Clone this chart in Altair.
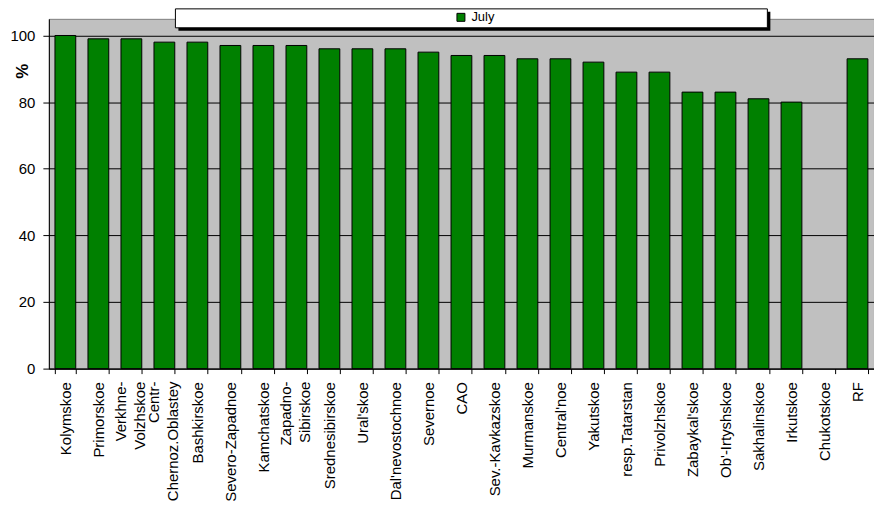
import altair as alt
import pandas as pd

regions = ["Kolymskoe", "Primorskoe", "Verkhne-|Volzhskoe", "Centr-|Chernoz.Oblastey",
           "Bashkirskoe", "Severo-Zapadnoe", "Kamchatskoe", "Zapadno-|Sibirskoe",
           "Srednesibirskoe", "Ural'skoe", "Dal'nevostochnoe", "Severnoe", "CAO",
           "Sev.-Kavkazskoe", "Murmanskoe", "Central'noe", "Yakutskoe", "resp.Tatarstan",
           "Privolzhskoe", "Zabaykal'skoe", "Ob'-Irtyshskoe", "Sakhalinskoe", "Irkutskoe",
           "Chukotskoe", "RF"]
july = [100, 99, 99, 98, 98, 97, 97, 97, 96, 96, 96, 95, 94, 94, 93, 93, 92, 89, 89,
        83, 83, 81, 80, None, 93]
series = ["July"]
y_ticks = [0, 20, 40, 60, 80, 100]

df = pd.DataFrame({"region": regions, "value": july, "series": series[0]})

FONT = "Liberation Sans"
H = 351

xenc = alt.X("region:N", sort=regions,
             scale=alt.Scale(paddingInner=0.37, paddingOuter=0.185),
             axis=alt.Axis(title=None, labelAngle=270, labelAlign="right",
                           labelBaseline="middle", labelPadding=8, tickSize=5,
                           tickBand="extent", domainColor="black", tickColor="black",
                           labelColor="black", labelFont=FONT, labelFontSize=15,
                           labelExpr="indexof(datum.label, '|') >= 0 ? '' : datum.label",
                           grid=False, labelOverlap=False))

bars = alt.Chart(df).mark_bar(stroke="black", strokeWidth=1).encode(
    x=xenc,
    y=alt.Y("value:Q", scale=alt.Scale(domain=[0, 105], nice=False),
            axis=alt.Axis(values=y_ticks, title="%", titleFontWeight="bold",
                          titleFont=FONT, titleFontSize=17, titleAngle=270,
                          titleX=-26, titleY=52, titleAlign="center",
                          titleBaseline="middle", titleColor="black",
                          labelFont=FONT, labelFontSize=15, labelColor="black",
                          labelPadding=8, tickSize=6, tickColor="black",
                          domainColor="black", grid=True, gridColor="black",
                          gridOpacity=1, gridWidth=1)),
    color=alt.Color("series:N", scale=alt.Scale(domain=series, range=["#008000"]),
                    legend=alt.Legend(title=None, orient="none", legendX=407,
                                      legendY=-8, symbolType="square", symbolSize=64,
                                      symbolStrokeColor="black", symbolStrokeWidth=1,
                                      labelFont=FONT, labelFontSize=13,
                                      labelColor="black", labelOffset=4, padding=0)),
)

two_line = alt.Chart(df).transform_filter(
    "indexof(datum.region, '|') >= 0"
).mark_text(angle=270, align="right", baseline="middle", lineBreak="|",
            lineHeight=19, dy=-10, font=FONT, fontSize=15, color="black").encode(
    x=alt.X("region:N", sort=regions),
    y=alt.value(H + 13),
    text="region:N",
)

box_data = alt.Data(values=[{"a": 1}])
shadow = alt.Chart(box_data).mark_rect(color="black").encode(
    x=alt.value(130), x2=alt.value(724), y=alt.value(-7), y2=alt.value(12))
box = alt.Chart(box_data).mark_rect(fill="white", stroke="black", strokeWidth=1).encode(
    x=alt.value(127), x2=alt.value(721), y=alt.value(-10), y2=alt.value(9))

chart = alt.layer(bars, two_line, shadow, box).properties(
    width=828, height=H,
    padding={"left": 41, "top": 10, "right": 0, "bottom": 140},
    autosize=alt.AutoSizeParams(type="none"),
    background="white",
).configure_view(fill="#C0C0C0", stroke="#808080", strokeWidth=1)

chart.save("out.html", embed_options={"renderer": "svg", "actions": False})
